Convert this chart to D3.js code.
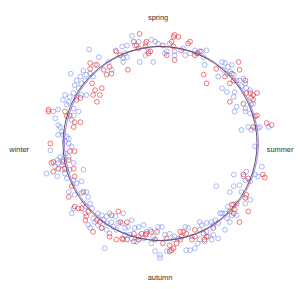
<!DOCTYPE html>
<html>
<head>
<meta charset="utf-8">
<script src="https://cdn.jsdelivr.net/npm/d3@7"></script>
<style>
html,body{margin:0;padding:0;background:#fff;}
svg{display:block;}
text{text-rendering:geometricPrecision;}
</style>
</head>
<body>
<svg id="chart" width="300" height="289"></svg>
<script>
// Seasonal components (circle of mean = 100 units)
const bluePoints = [
[-73,97],[-63,89],[-92,72],[-79,75],[-82,69],[-86,65],[-77,65],[-76,71],[-72,72],[-81,62],[-88,60],[-84,57],[-89,52],[-98,50],[-93,48],[-100,45],[-94,43],[-96,40],[-86,48],[-81,50],[-105,35],[-89,36],[-69,69],[-76,50],[-50,76],[-53,84],[-46,96],[-67,81],
[-29,111],[-34,101],[-39,100],[-36,93],[-38,88],[-38,84],[-34,89],[-21,84],[-7,84],[-15,91],[-12,95],[-9,107],[-5,105],[-15,103],[-22,105],[-26,101],[5,93],[7,95],[10,103],[15,91],[15,95],[24,98],[26,91],[31,93],[36,96],[39,93],[-2,103],
[43,95],[48,96],[45,89],[46,81],[60,69],[64,57],[69,53],[64,84],[67,83],[70,79],[74,81],[65,76],[69,72],[72,74],[76,71],[77,53],[76,48],[79,65],[82,65],[86,67],[88,62],[89,57],[93,55],[84,59],[79,38],[88,36],[94,40],[96,41],
[-110,33],[-108,26],[-105,19],[-103,17],[-101,12],[-100,9],[-105,9],[-96,7],[-94,5],[-98,2],[-94,0],[-91,-3],[-113,-7],[-98,-10],[-103,-14],[-106,-17],[-105,-20],[-101,-22],[-108,-24],[-117,-31],[-106,-34],[-98,-31],[-96,-36],[-93,-27],[-89,-38],[-86,-41],[-81,-39],[-79,-27],[-84,33],[-89,29],[-91,24],[-100,-17],[-101,-27],[-94,-14],[-89,-20],
[77,33],[88,33],[93,31],[91,17],[94,14],[98,16],[101,16],[103,17],[112,17],[84,14],[98,-3],[105,-24],[89,-29],[98,-32],[101,-34],[76,-32],[86,-34],[88,-38],[82,-43],[76,-44],[58,-44],[93,-39],
[-94,-50],[-88,-53],[-81,-51],[-76,-50],[-74,-55],[-89,-67],[-91,-72],[-79,-62],[-76,-65],[-72,-62],[-70,-67],[-77,-72],[-69,-77],[-67,-81],[-64,-72],[-60,-74],[-58,-79],[-55,-75],[-52,-72],[-46,-75],[-74,-84],[-72,-87],[-64,-84],[-60,-87],[-55,-89],[-52,-93],[-48,-86],[-50,-81],[-55,-82],[-57,-108],[-45,-89],[-43,-82],
[-38,-72],[-39,-82],[-36,-87],[-33,-86],[-29,-79],[-26,-87],[-22,-86],[-17,-84],[-14,-91],[-10,-89],[-7,-96],[-9,-103],[-5,-111],[0,-115],[0,-118],[-2,-86],[2,-86],[5,-94],[10,-93],[15,-96],[19,-98],[26,-86],[29,-87],[33,-96],[27,-110],[31,-110],[36,-108],[39,-103],[41,-81],[-36,-94],[-31,-94],[-29,-98],[-24,-101],[-17,-98],[7,-111],[14,-99],
[72,-50],[84,-50],[93,-58],[88,-62],[76,-63],[70,-65],[67,-72],[64,-72],[74,-74],[79,-74],[69,-77],[72,-81],[67,-89],[60,-82],[57,-79],[53,-81],[55,-84],[48,-82],[43,-84],[41,-89],[48,-91],[50,-96],[55,-94],[60,-98],[53,-99],[46,-101],[41,-99],[62,-72]
];
const redPoints = [
[-72,83],[-65,81],[-72,77],[-58,76],[-52,79],[-50,72],[-55,71],[-70,62],[-67,55],[-60,57],[-62,50],[-69,50],[-65,43],[-82,47],[-86,45],[-115,35],[-45,95],[-41,91],
[-21,113],[-33,76],[-27,105],[-24,101],[-22,98],[-14,105],[-15,100],[-12,93],[-10,95],[3,101],[12,105],[14,110],[15,112],[19,110],[14,100],[15,86],[22,96],[29,103],[31,105],[36,91],[38,93],[41,95],[7,91],
[45,71],[48,62],[58,77],[67,69],[74,72],[76,65],[72,62],[81,84],[82,76],[88,65],[89,52],[93,52],[96,50],[100,52],[94,47],[96,45],[86,41],[72,43],
[-115,33],[-98,33],[-96,28],[-88,22],[-82,22],[-89,17],[-113,0],[-88,-8],[-93,-8],[-94,-17],[-100,-19],[-110,-19],[-112,-20],[-105,-26],[-110,-29],[-98,-26],[-89,-26],[-88,-34],[-91,-44],[-93,29],
[98,28],[100,29],[96,17],[110,21],[115,19],[86,-32],[91,-36],[106,-32],[108,-35],
[-79,-50],[-94,-55],[-88,-65],[-84,-67],[-81,-67],[-74,-70],[-76,-75],[-77,-79],[-65,-79],[-69,-91],[-60,-87],[-50,-74],[-45,-99],[-52,-96],[-43,-70],[-62,-81],
[-41,-81],[-34,-81],[-39,-98],[-34,-99],[-27,-93],[-22,-96],[-19,-93],[-15,-94],[-14,-93],[-9,-91],[-3,-91],[-5,-99],[3,-103],[7,-98],[10,-105],[12,-110],[10,-111],[14,-108],[17,-103],[21,-99],[22,-96],[24,-91],[27,-93],[33,-99],[36,-96],[21,-91],[36,-89],[-22,-99],[-27,-101],[-38,-99],
[89,-53],[88,-56],[79,-62],[74,-63],[72,-70],[76,-72],[91,-70],[82,-81],[45,-93],[48,-96],[46,-99],[55,-87],[77,-68]
];
// Reference circle (mean) and fitted curve (angle in degrees clockwise from spring, radius)
const meanRadius = 100;
const fitAngles = [0,30,60,90,120,150,180,210,240,270,300,330];
const fitRadii  = [100,100.8,101.3,101.5,101.3,100.8,100,99.2,98.7,98.5,98.7,99.2];
const seasons = ["spring","summer","autumn","winter"];
const seasonX = [-2,110,0,-135];
const seasonY = [127,-9,-141,-9];
const seasonAnchor = ["middle","start","middle","end"];

const svg = d3.select("#chart");
const x = d3.scaleLinear().domain([-100,100]).range([63,257]);
const y = d3.scaleLinear().domain([-100,100]).range([240.5,46.5]);
const r = d3.scaleLinear().domain([0,100]).range([0, x(100)-x(0)]);
const cx = x(0), cy = y(0);

function drawPts(data, color){
  svg.append("g").selectAll("circle").data(data).join("circle")
    .attr("cx", d=>x(d[0])).attr("cy", d=>y(d[1])).attr("r", 2.4)
    .attr("fill","none").attr("stroke", color).attr("stroke-width", 0.85);
}
drawPts(bluePoints, "rgba(105,130,240,0.65)");
drawPts(redPoints, "rgba(232,45,45,0.75)");

const g = svg.append("g").attr("transform", `translate(${cx},${cy})`);
const fit = fitAngles.map((a,i)=>({a:a*Math.PI/180, r:fitRadii[i]}));
g.append("path").datum(fit)
  .attr("d", d3.lineRadial().angle(d=>d.a).radius(d=>r(d.r)).curve(d3.curveCardinalClosed))
  .attr("fill","none").attr("stroke","#b07af2").attr("stroke-width",1);
g.append("circle").attr("r", r(meanRadius)).attr("fill","none")
  .attr("stroke","#4a4a4a").attr("stroke-width",0.9);

svg.append("g").selectAll("text").data(seasons).join("text")
  .attr("x",(d,i)=> x(seasonX[i]))
  .attr("y",(d,i)=> y(seasonY[i]))
  .attr("text-anchor",(d,i)=>seasonAnchor[i])
  .attr("font-family","Liberation Sans, Arial, sans-serif")
  .attr("font-size","7.4px").attr("fill","#333")
  .text(d=>d);
</script>
</body>
</html>
